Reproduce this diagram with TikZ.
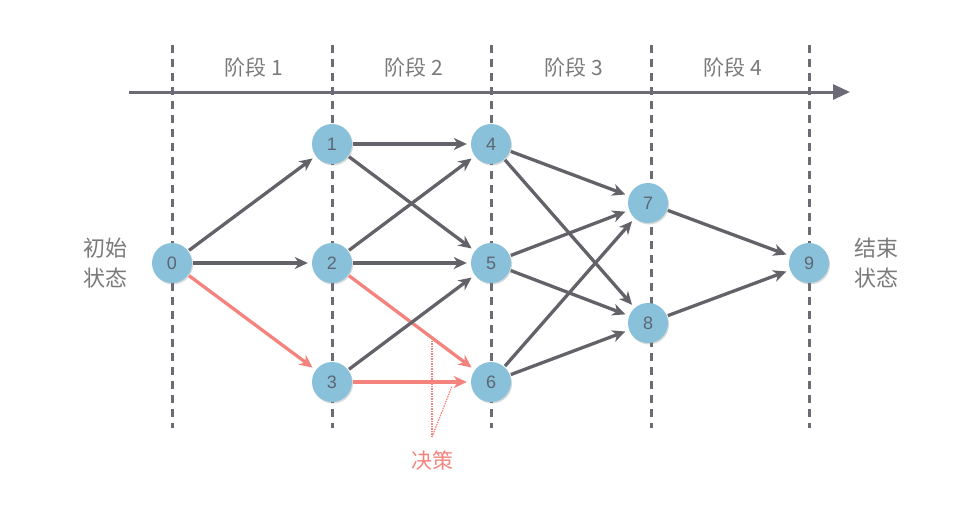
\documentclass[tikz,border=0pt]{standalone}
\usepackage{fontspec}
\setmainfont{Noto Sans CJK SC}
\newfontfamily\numfont{Liberation Sans}
\usetikzlibrary{arrows.meta,shadows}
\definecolor{linegray}{HTML}{636269}
\definecolor{dashgray}{HTML}{6B6A75}
\definecolor{nodeblue}{HTML}{88C1D9}
\definecolor{numgray}{HTML}{5F6673}
\definecolor{txtgray}{HTML}{7A7A7A}
\definecolor{redline}{HTML}{F4837D}
\begin{document}
\begin{tikzpicture}[x=1pt,y=-1pt,
  stage/.style={draw=dashgray,line width=3pt,dash pattern=on 8pt off 6pt},
  state/.style={circle,fill=nodeblue,minimum size=40pt,inner sep=0pt,text=numgray,font=\numfont\fontsize{18}{18}\selectfont,
    drop shadow={shadow xshift=1pt,shadow yshift=-1.5pt,opacity=0.3}},
  edge/.style={draw=linegray,line width=3.3pt,-{Stealth[length=13pt,width=12pt,inset=4pt]},shorten >=4pt,shorten <=1pt},
  redge/.style={edge,draw=redline},
  lbl/.style={text=txtgray,font=\fontsize{21}{21}\selectfont},
  side/.style={text=txtgray,font=\fontsize{22}{30}\selectfont,align=center}]
\useasboundingbox (0,0) rectangle (980,515);
% stage lines
\foreach \x in {172,332,491,651,809} \draw[stage] (\x,45) -- (\x,428);
% axis
\coordinate (axs) at (129,92);
\coordinate (axe) at (850,92);
\draw[draw=dashgray,line width=3pt,-{Triangle[length=17pt,width=15pt]}] (axs) -- (axe);
\node[lbl] (s1) at (254,67) {阶段 1};
\node[lbl] (s2) at (414,67) {阶段 2};
\node[lbl] (s3) at (574,67) {阶段 3};
\node[lbl] (s4) at (733,67) {阶段 4};
% nodes
\node[state] (n0) at (172,263) {0};
\node[state] (n1) at (332,144) {1};
\node[state] (n2) at (332,263) {2};
\node[state] (n3) at (332,382) {3};
\node[state] (n4) at (491,144) {4};
\node[state] (n5) at (491,263) {5};
\node[state] (n6) at (491,382) {6};
\node[state] (n7) at (648,203) {7};
\node[state] (n8) at (648,323) {8};
\node[state] (n9) at (809,263) {9};
\node[side] (start) at (105,263) {初始\\状态};
\node[side] (end) at (876,263) {结束\\状态};
% edges
\draw[edge] (n0) -- (n1);
\draw[edge] (n0) -- (n2);
\draw[redge] (n0) -- (n3);
\draw[edge] (n1) -- (n4);
\draw[edge] (n1) -- (n5);
\draw[edge] (n2) -- (n4);
\draw[edge] (n2) -- (n5);
\draw[redge] (n2) -- (n6);
\draw[edge] (n3) -- (n5);
\draw[redge] (n3) -- (n6);
\draw[edge] (n4) -- (n7);
\draw[edge] (n4) -- (n8);
\draw[edge] (n5) -- (n7);
\draw[edge] (n5) -- (n8);
\draw[edge] (n6) -- (n7);
\draw[edge] (n6) -- (n8);
\draw[edge] (n7) -- (n9);
\draw[edge] (n8) -- (n9);
% decision label
\node[text=redline,font=\fontsize{21}{21}\selectfont] (dec) at (432,460) {决策};
\coordinate (dp) at (432,437);
\coordinate (dt1) at (432,340);
\coordinate (dt2) at (452,386);
\draw[redline,line width=1.2pt,dash pattern=on 1.5pt off 1pt] (dp) -- (dt1);
\draw[redline,line width=1.2pt,dash pattern=on 1.5pt off 1pt] (dp) -- (dt2);
\end{tikzpicture}
\end{document}
